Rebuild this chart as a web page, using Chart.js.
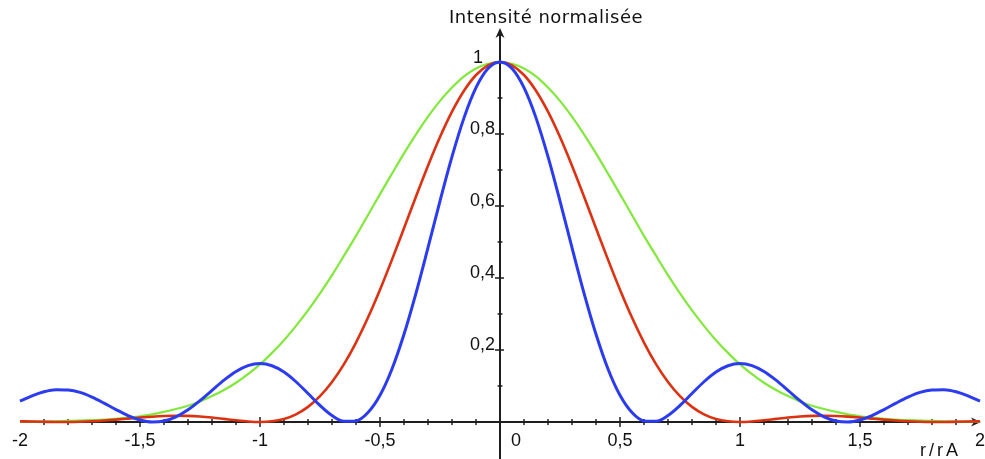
<!DOCTYPE html>
<html>
<head>
<meta charset="utf-8">
<script src="https://cdn.jsdelivr.net/npm/chart.js@4"></script>
<style>
html, body { margin: 0; padding: 0; background: #fff; }
</style>
</head>
<body>
<canvas id="chart" width="985" height="459"></canvas>
<script>
// r / rA sample positions
const rValues = [
    -2, -1.95, -1.9, -1.85, -1.8, -1.75, -1.7, -1.65, -1.6, -1.55,
    -1.5, -1.45, -1.4, -1.35, -1.3, -1.25, -1.2, -1.15, -1.1, -1.05,
    -1, -0.95, -0.9, -0.85, -0.8, -0.75, -0.7, -0.65, -0.6, -0.55,
    -0.5, -0.45, -0.4, -0.35, -0.3, -0.25, -0.2, -0.15, -0.1, -0.05,
    0,
    0.05, 0.1, 0.15, 0.2, 0.25, 0.3, 0.35, 0.4, 0.45, 0.5,
    0.55, 0.6, 0.65, 0.7, 0.75, 0.8, 0.85, 0.9, 0.95, 1,
    1.05, 1.1, 1.15, 1.2, 1.25, 1.3, 1.35, 1.4, 1.45, 1.5,
    1.55, 1.6, 1.65, 1.7, 1.75, 1.8, 1.85, 1.9, 1.95, 2
]

const blueIntensity = [
    0.0580, 0.0728, 0.0840, 0.0896, 0.0888, 0.0823, 0.0693, 0.0525, 0.0345, 0.0179,
    0.0057, 0.0002, 0.0029, 0.0143, 0.0338, 0.0593, 0.0880, 0.1162, 0.1402, 0.1565,
    0.1622, 0.1562, 0.1388, 0.1118, 0.0792, 0.0459, 0.0181, 0.0019, 0.0031, 0.0264,
    0.0743, 0.1474, 0.2436, 0.3581, 0.4844, 0.6137, 0.7370, 0.8448, 0.9286, 0.9818,
    1,
    0.9818, 0.9286, 0.8448, 0.7370, 0.6137, 0.4844, 0.3581, 0.2436, 0.1474, 0.0743,
    0.0264, 0.0031, 0.0019, 0.0181, 0.0459, 0.0792, 0.1118, 0.1388, 0.1562, 0.1622,
    0.1565, 0.1402, 0.1162, 0.0880, 0.0593, 0.0338, 0.0143, 0.0029, 0.0002, 0.0057,
    0.0179, 0.0345, 0.0525, 0.0693, 0.0823, 0.0888, 0.0896, 0.0840, 0.0728, 0.0580
]

const redIntensity = [
    0.0022, 0.0012, 0.0005, 0.0000, 0.0001, 0.0008, 0.0021, 0.0041, 0.0066, 0.0094,
    0.0123, 0.0148, 0.0167, 0.0175, 0.0171, 0.0153, 0.0124, 0.0086, 0.0047, 0.0014,
    0, 0.0019, 0.0085, 0.0214, 0.0421, 0.0717, 0.1111, 0.1608, 0.2207, 0.2901,
    0.3675, 0.4511, 0.5384, 0.6263, 0.7118, 0.7914, 0.8619, 0.9202, 0.9639, 0.9909,
    1,
    0.9909, 0.9639, 0.9202, 0.8619, 0.7914, 0.7118, 0.6263, 0.5384, 0.4511, 0.3675,
    0.2901, 0.2207, 0.1608, 0.1111, 0.0717, 0.0421, 0.0214, 0.0085, 0.0019, 0,
    0.0014, 0.0047, 0.0086, 0.0124, 0.0153, 0.0171, 0.0175, 0.0167, 0.0148, 0.0123,
    0.0094, 0.0066, 0.0041, 0.0021, 0.0008, 0.0001, 0.0000, 0.0005, 0.0012, 0.0022
]

const greenIntensity = [
    0.001, 0.001, 0.001, 0.002, 0.003, 0.004, 0.005, 0.007, 0.009, 0.012,
    0.016, 0.021, 0.028, 0.036, 0.045, 0.057, 0.072, 0.089, 0.109, 0.133,
    0.160, 0.192, 0.227, 0.267, 0.310, 0.357, 0.408, 0.462, 0.517, 0.575,
    0.633, 0.690, 0.746, 0.799, 0.848, 0.892, 0.929, 0.960, 0.982, 0.995,
    1,
    0.995, 0.982, 0.960, 0.929, 0.892, 0.848, 0.799, 0.746, 0.690, 0.633,
    0.575, 0.517, 0.462, 0.408, 0.357, 0.310, 0.267, 0.227, 0.192, 0.160,
    0.133, 0.109, 0.089, 0.072, 0.057, 0.045, 0.036, 0.028, 0.021, 0.016,
    0.012, 0.009, 0.007, 0.005, 0.004, 0.003, 0.002, 0.001, 0.001, 0.001
]

const xTicks = [-2, -1.5, -1, -0.5, 0, 0.5, 1, 1.5, 2]
const xTickLabels = ["-2", "-1,5", "-1", "-0,5", "0", "0,5", "1", "1,5", "2"]
const yTicks = [0.2, 0.4, 0.6, 0.8, 1]
const yTickLabels = ["0,2", "0,4", "0,6", "0,8", "1"]

const yTitle = "Intensité normalisée"
const xTitle = "r/rA"

const toPoints = (values) => values.map((v, i) => { return { x: rValues[i], y: v } })

const drawArrow = (ctx, tx, ty, dx, dy) => {
    // concave arrow head pointing along (dx, dy)
    const len = 10, half = 4.5, notch = 7
    const px = -dy, py = dx
    ctx.beginPath()
    ctx.moveTo(tx, ty)
    ctx.lineTo(tx - dx * len + px * half, ty - dy * len + py * half)
    ctx.lineTo(tx - dx * notch, ty - dy * notch)
    ctx.lineTo(tx - dx * len - px * half, ty - dy * len - py * half)
    ctx.closePath()
    ctx.fill()
}

const axesPlugin = {
    id: "centerAxes",
    beforeDatasetsDraw(chart) {
        const ctx = chart.ctx
        const xs = chart.scales.x
        const ys = chart.scales.y
        const x0 = xs.getPixelForValue(0)
        const y0 = ys.getPixelForValue(0)

        ctx.save()
        ctx.strokeStyle = "#1e1e1e"
        ctx.fillStyle = "#1e1e1e"
        ctx.lineWidth = 2

        // x axis
        ctx.beginPath()
        ctx.moveTo(xs.getPixelForValue(-2), y0)
        ctx.lineTo(xs.getPixelForValue(2) - 4, y0)
        ctx.stroke()
        drawArrow(ctx, xs.getPixelForValue(2) + 1, y0, 1, 0)

        // y axis
        ctx.beginPath()
        ctx.moveTo(x0, chart.height)
        ctx.lineTo(x0, 34)
        ctx.stroke()
        drawArrow(ctx, x0, 28, 0, -1)

        // x ticks, every 0.1, bigger at 0.5
        ctx.lineWidth = 1.5
        for (let k = -19; k <= 19; k++) {
            if (k === 0) continue
            const px = xs.getPixelForValue(k / 10)
            const h = (k % 5 === 0) ? 5 : 3
            ctx.beginPath()
            ctx.moveTo(px, y0 - h)
            ctx.lineTo(px, y0 + h)
            ctx.stroke()
        }

        // y ticks, every 0.1, bigger at 0.2
        for (let k = 1; k <= 10; k++) {
            const py = ys.getPixelForValue(k / 10)
            const big = (k % 2 === 0)
            ctx.beginPath()
            ctx.moveTo(x0 - (big ? 5 : 2.5), py)
            ctx.lineTo(x0 + (big ? 4 : 2.5), py)
            ctx.stroke()
        }

        // tick labels
        ctx.fillStyle = "#111"
        ctx.font = "18px 'Liberation Sans'"
        ctx.textBaseline = "alphabetic"
        ctx.textAlign = "center"
        for (let i = 0; i < xTicks.length; i++) {
            let px = xs.getPixelForValue(xTicks[i])
            if (xTicks[i] === 0) px += 16
            ctx.fillText(xTickLabels[i], px, y0 + 24)
        }
        ctx.textAlign = "right"
        for (let i = 0; i < yTicks.length; i++) {
            const py = ys.getPixelForValue(yTicks[i])
            if (yTicks[i] === 1) {
                ctx.fillText(yTickLabels[i], x0 - 17, py + 1)
            } else {
                ctx.fillText(yTickLabels[i], x0 - 5, py)
            }
        }

        // axis titles
        ctx.font = "18px 'DejaVu Sans'"
        ctx.letterSpacing = "0.5px"
        ctx.textAlign = "center"
        ctx.fillText(yTitle, x0 + 46, 23)
        ctx.font = "18px 'Liberation Sans'"
        ctx.letterSpacing = "3px"
        ctx.textAlign = "left"
        ctx.fillText(xTitle, xs.getPixelForValue(2) - 60, y0 + 34)
        ctx.restore()
    }
}

const commonSet = {
    fill: false,
    pointRadius: 0,
    cubicInterpolationMode: "monotone",
    clip: false
}

new Chart(document.getElementById("chart").getContext("2d"), {
    type: "line",
    data: {
        datasets: [
            Object.assign({ label: "blue", data: toPoints(blueIntensity), borderColor: "#2b3cf0", borderWidth: 3 }, commonSet),
            Object.assign({ label: "red", data: toPoints(redIntensity), borderColor: "#dc3212", borderWidth: 2.6 }, commonSet),
            Object.assign({ label: "green", data: toPoints(greenIntensity), borderColor: "#82e83c", borderWidth: 2.2 }, commonSet)
        ]
    },
    options: {
        responsive: false,
        devicePixelRatio: 1,
        animation: false,
        layout: { padding: { left: 20, right: 5, top: 62, bottom: 37 } },
        scales: {
            x: { type: "linear", min: -2, max: 2, display: false },
            y: { type: "linear", min: 0, max: 1, display: false }
        },
        plugins: {
            legend: { display: false },
            tooltip: { enabled: false }
        }
    },
    plugins: [axesPlugin]
})
</script>
</body>
</html>
